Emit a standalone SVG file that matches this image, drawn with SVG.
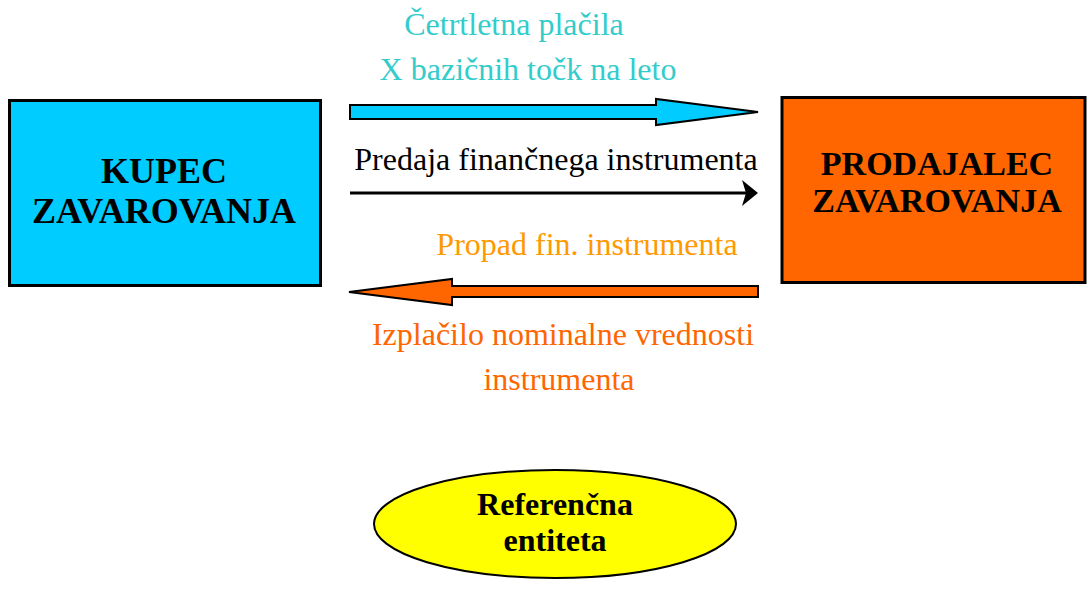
<svg xmlns="http://www.w3.org/2000/svg" width="1087" height="594" viewBox="0 0 1087 594">
<style>
text{font-family:"Liberation Serif","Times New Roman",serif}
.b{font-weight:bold;fill:#000;text-anchor:middle}
.lbl{font-size:32px;text-anchor:middle}
.box{stroke:#000;stroke-width:3}
</style>
<rect width="1087" height="594" fill="#fff"/>
<g id="kupec">
<rect class="box" x="9.5" y="100.5" width="311" height="185" fill="#00CCFF"/>
<text class="b" x="164" y="183" font-size="36">KUPEC</text>
<text class="b" x="164" y="223" font-size="36">ZAVAROVANJA</text>
</g>
<g id="prodajalec">
<rect class="box" x="782" y="97.5" width="303" height="185" fill="#FF6600"/>
<text class="b" x="937" y="175" font-size="34">PRODAJALEC</text>
<text class="b" x="937" y="212" font-size="34">ZAVAROVANJA</text>
</g>
<g id="referencna">
<ellipse cx="555" cy="524" rx="181" ry="54" fill="#FFFF00" stroke="#000" stroke-width="2"/>
<text class="b" x="555" y="515" font-size="32">Referenčna</text>
<text class="b" x="555" y="551" font-size="32">entiteta</text>
</g>
<g id="connectors">
<polygon points="350,105 656,105 656,99 758,112 656,125 656,119 350,119" fill="#00CCFF" stroke="#000" stroke-width="2"/>
<line x1="350" y1="193" x2="750" y2="193" stroke="#000" stroke-width="3"/>
<polygon points="758,193 742,180 746,193 742,206" fill="#000"/>
<polygon points="758,286 452,286 452,279 349,292 452,305 452,297 758,297" fill="#FF6600" stroke="#000" stroke-width="2"/>
</g>
<g id="labels">
<text class="lbl" x="514" y="35" fill="#33CCCC">Četrtletna plačila</text>
<text class="lbl" x="528" y="80" fill="#33CCCC">X bazičnih točk na leto</text>
<text class="lbl" x="556" y="170" fill="#000">Predaja finančnega instrumenta</text>
<text class="lbl" x="587" y="255" fill="#FF9900">Propad fin. instrumenta</text>
<text class="lbl" x="563" y="345" fill="#FF6600">Izplačilo nominalne vrednosti</text>
<text class="lbl" x="559" y="390" fill="#FF6600">instrumenta</text>
</g>
</svg>
